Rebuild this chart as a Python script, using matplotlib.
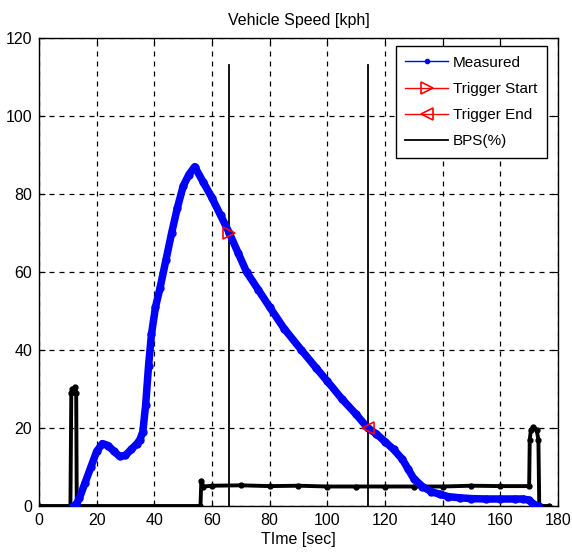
import matplotlib
matplotlib.use("Agg")
import matplotlib.pyplot as plt

plt.rcParams["font.family"] = ["Liberation Sans", "DejaVu Sans"]

# Measured vehicle speed [kph]
meas_t = [12, 13, 14, 16, 18, 20, 22, 24, 26, 28, 30, 32, 34, 35, 36, 37, 38, 39, 40.4, 42, 44,
          46, 48, 50, 52, 54, 57, 60, 63, 66, 69, 72, 76, 80, 85, 91, 96, 100, 105, 110, 114,
          117, 120, 123, 126, 128, 130, 133, 136, 139, 142, 146, 150, 155, 160, 165, 168, 170,
          171, 172, 173]
meas_v = [0, 0.5, 2, 6, 10, 14, 16, 15.5, 14, 12.7, 13, 14.5, 16, 17, 19, 26, 36, 44, 51, 56, 63,
          70, 76.5, 82, 85, 87, 83, 79, 74.5, 70, 65, 60, 55.5, 51, 45.5, 40, 35.5, 32, 27.5,
          23.5, 20, 18.5, 16.5, 14.5, 12, 9.5, 7, 5, 3.7, 3, 2.4, 2.1, 1.9, 1.8, 1.8, 1.8, 1.8,
          1.5, 0.8, 0.2, 0]

# brake pedal signal (%)
bps_t = [0, 10.9, 11.2, 11.6, 12.6, 12.9, 13.1, 56, 56.3, 57, 60, 70, 80, 90, 100, 110, 120,
         130, 140, 150, 160, 170, 170.2, 170.6, 171.5, 172.6, 173.2, 173.5, 177]
bps_v = [0, 0, 29, 30, 30.5, 29, 0, 0, 6.5, 5, 5.2, 5.3, 5.1, 5.2, 5, 5, 5, 5, 5, 5.2, 5.1, 5.1,
         17, 19.5, 20.3, 19.5, 17, 0, 0]

trig_start = (66, 70)
trig_end = (114, 20)
trig_lines_t = [66, 114]
trig_lines_top = 113

fig = plt.figure(figsize=(5.72, 5.55), dpi=100)
ax = fig.add_axes([39 / 572, 49 / 555, 519 / 572, 468 / 555])

ax.plot(meas_t, meas_v, "-", color="#0000ff", lw=5.4, marker=".", ms=10, label="Measured", zorder=3)
ax.plot(bps_t, bps_v, "-", color="black", lw=2.8, marker=".", ms=7, zorder=2)
ax.plot([trig_start[0]], [trig_start[1]], color="red", marker=">", mfc="none", mec="red",
        ms=9, mew=1.2, label="Trigger Start", zorder=4)
ax.plot([trig_end[0]], [trig_end[1]], color="red", marker="<", mfc="none", mec="red",
        ms=9, mew=1.2, label="Trigger End", zorder=4)
for i, t in enumerate(trig_lines_t):
    ax.plot([t, t], [0, trig_lines_top], color="black", lw=1.3,
            label="BPS(%)" if i == 0 else None, zorder=2)

ax.set_xlim(0, 180); ax.set_ylim(0, 120)
ax.set_xticks(range(0, 181, 20)); ax.set_yticks(range(0, 121, 20))
ax.grid(True, ls=(0, (4, 4)), color="black", lw=0.9)
ax.tick_params(direction="in", top=True, right=True, length=4, labelsize=11.5, pad=5)
for s in ax.spines.values(): s.set_linewidth(1.0)
ax.set_title("Vehicle Speed [kph]", fontsize=11.5, pad=9)
ax.set_xlabel("TIme [sec]", fontsize=11.5, labelpad=3)

leg = ax.legend(loc="upper right", fontsize=11, handlelength=2.8, handletextpad=0.3,
                labelspacing=0.8, borderpad=0.65, borderaxespad=0.2, fancybox=False,
                framealpha=1, edgecolor="black", bbox_to_anchor=(0.985, 0.99))
leg.get_frame().set_linewidth(1.0)
hs = leg.legend_handles
hs[0].set_linewidth(1.0); hs[0].set_markersize(6)
for h in hs[1:3]:
    h.set_linestyle("-"); h.set_linewidth(1.0)

fig.savefig("out.png", dpi=100)
